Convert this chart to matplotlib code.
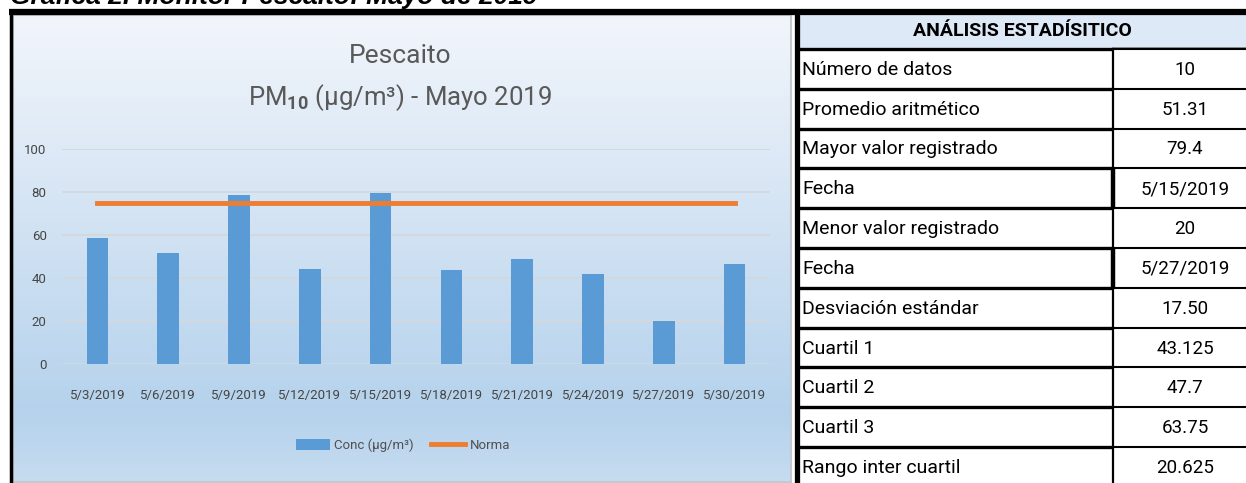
import matplotlib.pyplot as plt
import numpy as np
from matplotlib.colors import LinearSegmentedColormap
from matplotlib.patches import Rectangle

# datos del grafico
fechas = ['5/3/2019', '5/6/2019', '5/9/2019', '5/12/2019', '5/15/2019',
          '5/18/2019', '5/21/2019', '5/24/2019', '5/27/2019', '5/30/2019']
conc = [58.8, 51.4, 78.6, 44.0, 79.4, 43.5, 49.0, 42.0, 20.0, 46.4]
norma = [75, 75, 75, 75, 75, 75, 75, 75, 75, 75]

# tabla de analisis estadistico
etiquetas = ['Número de datos', 'Promedio aritmético', 'Mayor valor registrado',
             'Fecha', 'Menor valor registrado', 'Fecha', 'Desviación estándar',
             'Cuartil 1', 'Cuartil 2', 'Cuartil 3', 'Rango inter cuartil']
valores = ['10', '51.31', '79.4', '5/15/2019', '20', '5/27/2019', '17.50',
           '43.125', '47.7', '63.75', '20.625']

FUENTE = ['Roboto', 'DejaVu Sans']
plt.rcParams['mathtext.fontset'] = 'custom'
plt.rcParams['mathtext.rm'] = 'Roboto'
plt.rcParams['mathtext.bf'] = 'Roboto:bold'

W, H = 1246, 483
fig = plt.figure(figsize=(W / 100, H / 100), dpi=100)
fig.patch.set_facecolor('white')

# capa de fondo en pixeles
bg = fig.add_axes([0, 0, 1, 1])
bg.axis('off')

# degradado del area del grafico
cmap = LinearSegmentedColormap.from_list(
    'fondo', [(0, '#f2f6fb'), (0.3, '#dde9f6'), (0.85, '#b5d2ec'), (1, '#c6dcf0')])
grad = np.linspace(0, 1, 256).reshape(-1, 1)
bg.imshow(grad, cmap=cmap, aspect='auto', extent=(13, 791, 482, 15), origin='upper', zorder=0)
bg.set_xlim(0, W)
bg.set_ylim(H, 0)
bg.add_patch(Rectangle((13, 15), 778, 467, fill=False, ec='#c4c9cf', lw=1.5, zorder=1))

# marcos negros
bg.plot([9, W], [11.5, 11.5], color='black', lw=4.5, solid_capstyle='butt')
bg.plot([10.5, 10.5], [9, H], color='black', lw=2.5, solid_capstyle='butt')
bg.plot([796.5, 796.5], [9, H], color='black', lw=3.8, solid_capstyle='butt')

# titulo superior (cortado por el borde, como en la captura)
bg.text(10, 4, 'Gráfica 2. Monitor Pescaito: Mayo de 2019', fontsize=19,
        fontweight='bold', fontstyle='italic', family=['Liberation Sans', 'DejaVu Sans'],
        va='baseline', ha='left')

# titulos del grafico
bg.text(400, 56, 'Pescaito', fontsize=19, color='#595959', family=FUENTE,
        ha='center', va='center')
bg.text(400, 98, r'PM$_{\mathbf{10}}$ (µg/m³) - Mayo 2019', fontsize=18.5,
        color='#595959', family=FUENTE, ha='center', va='center')

# grafico de barras
ax = fig.add_axes([62 / W, 1 - 364 / H, 708 / W, 215 / H])
ax.patch.set_alpha(0)
x = np.arange(len(fechas))
barras = ax.bar(x, conc, width=0.305, color='#5b9bd5', zorder=3, label='Conc (µg/m³)')
linea, = ax.plot(x, norma, color='#ed7d31', lw=3.5, zorder=4, label='Norma')
ax.set_xlim(-0.5, len(fechas) - 0.5)
ax.set_ylim(0, 100)
ax.set_yticks(range(0, 101, 20))
ax.set_xticks(x, fechas)
ax.grid(axis='y', color='#d3d8de', lw=1.3, zorder=0)
for s in ax.spines.values():
    s.set_visible(False)
ax.tick_params(axis='x', length=0, pad=18, labelsize=9.5, labelcolor='#454545')
ax.tick_params(axis='y', length=0, pad=11, labelsize=9.5, labelcolor='#454545')
for t in ax.get_xticklabels() + ax.get_yticklabels():
    t.set_family(FUENTE)

leg = ax.legend(handles=[barras, linea], loc='center', ncol=2, frameon=False,
                bbox_to_anchor=(403 / W, 1 - 445 / H), bbox_transform=fig.transFigure,
                prop={'family': FUENTE, 'size': 9.5}, handlelength=2.6, handleheight=0.9,
                handletextpad=0.3, columnspacing=1.3, labelcolor='#505050')

# tabla
x0, xdiv, x1 = 798, 1113, 1260
bg.add_patch(Rectangle((x0, 14), x1 - x0, 34, color='#dde9f6', zorder=1))
bg.text(1022, 31, 'ANÁLISIS ESTADÍSITICO', fontsize=14, fontweight='bold',
        family=FUENTE, ha='center', va='center')
bg.plot([xdiv, x1], [47.5, 47.5], color='#7f7f7f', lw=1.2)

paso = 39.8
y0 = 49
for i, (et, val) in enumerate(zip(etiquetas, valores)):
    ya = y0 + i * paso
    yb = ya + paso
    bg.text(802, (ya + yb) / 2 + 1, et, fontsize=14, family=FUENTE, ha='left', va='center')
    bg.text(1185, (ya + yb) / 2 + 1, val, fontsize=13.5, family=FUENTE, ha='center', va='center')
    grueso = 3.2 if et == 'Fecha' else 1.6
    bg.plot([xdiv, xdiv], [ya, yb], color='black', lw=grueso, solid_capstyle='butt')

for i in range(len(etiquetas) + 1):
    yy = y0 + i * paso
    bg.plot([x0, xdiv], [yy, yy], color='black', lw=2.4, solid_capstyle='butt')
    bg.plot([xdiv, x1], [yy, yy], color='black', lw=1.5, solid_capstyle='butt')

fig.savefig('out.png', dpi=100)
